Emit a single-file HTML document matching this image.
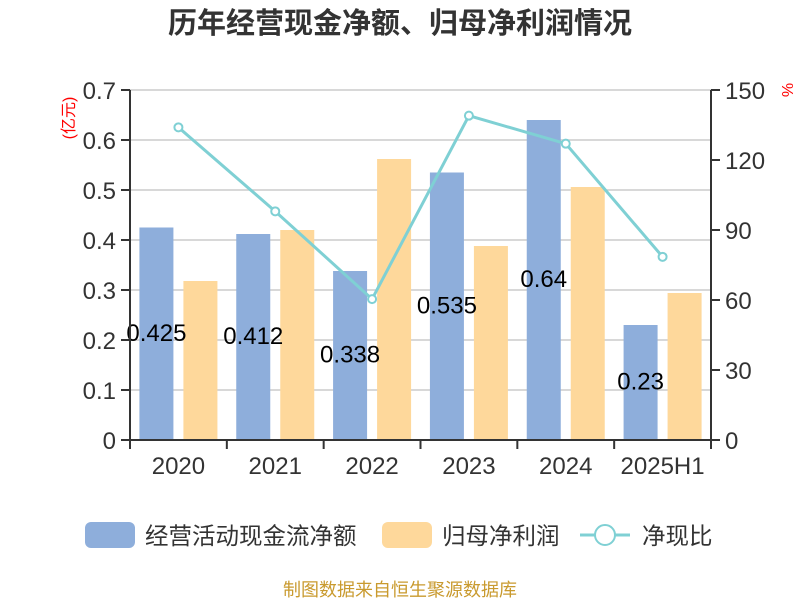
<!DOCTYPE html>
<html><head><meta charset="utf-8"><style>
body{margin:0;background:#fff;}
svg text{font-family:"Liberation Sans","Noto Sans CJK SC",sans-serif;}
</style></head><body>
<svg id="c" width="800" height="600" xmlns="http://www.w3.org/2000/svg">
<text x="400" y="33" text-anchor="middle" font-size="29" font-weight="bold" fill="#333">历年经营现金净额、归母净利润情况</text>
<text transform="translate(74,118) rotate(-90)" text-anchor="middle" font-size="16" fill="#f00">(亿元)</text>
<text transform="translate(782,90) rotate(90)" text-anchor="middle" font-size="16" fill="#f00">%</text>
<g id="grid"></g><g id="bars"></g><g id="line"></g><g id="axes"></g>
<g>
<rect x="85" y="522" width="50" height="26" rx="6" fill="#8eaedb"/>
<text x="145" y="544" font-size="23.5" fill="#333">经营活动现金流净额</text>
<rect x="382" y="522" width="50" height="26" rx="6" fill="#fed89b"/>
<text x="442" y="544" font-size="23.5" fill="#333">归母净利润</text>
<line x1="580" y1="535" x2="630" y2="535" stroke="#7fd0d4" stroke-width="3"/>
<circle cx="605" cy="535" r="10" fill="#fff" stroke="#7fd0d4" stroke-width="2"/>
<text x="642" y="544" font-size="23.5" fill="#333">净现比</text>
</g>
<text x="400" y="596" text-anchor="middle" font-size="18" fill="#c99a2e">制图数据来自恒生聚源数据库</text>
</svg>
<script>
const categories=["2020","2021","2022","2023","2024","2025H1"];
const cashFlow=[0.425,0.412,0.338,0.535,0.64,0.23];
const cashLabels=["0.425","0.412","0.338","0.535","0.64","0.23"];
const netProfit=[0.318,0.42,0.562,0.388,0.506,0.294];
const ratio=[134,98,60.4,139,127,78.5];
const leftTicks=[0,0.1,0.2,0.3,0.4,0.5,0.6,0.7];
const rightTicks=[0,30,60,90,120,150];
const NS="http://www.w3.org/2000/svg";
const X0=130,X1=711,Y0=440,Y1=90;
const bw=(X1-X0)/categories.length;
const yL=v=>Y0-(v/0.7)*(Y0-Y1);
const yR=v=>Y0-(v/150)*(Y0-Y1);
const xc=i=>X0+bw*(i+0.5);
function mk(t,a,p){const e=document.createElementNS(NS,t);for(const k in a)e.setAttribute(k,a[k]);document.getElementById(p).appendChild(e);return e;}
leftTicks.forEach(v=>{
 const g=mk("line",{x1:X0,x2:X1,y1:yL(v),y2:yL(v),stroke:"#ccc","stroke-width":1.5},"grid");
 
 
 const t=mk("line",{x1:X0-9,x2:X0,y1:yL(v),y2:yL(v),stroke:"#333","stroke-width":2},"axes");
 
 
 const l=mk("text",{x:X0-14,y:yL(v)+9,"text-anchor":"end","font-size":24,fill:"#333"},"axes");
 l.textContent=v===0?"0":v.toFixed(1);
 
 
});
rightTicks.forEach(v=>{
 const t=mk("line",{x1:X1,x2:X1+9,y1:yR(v),y2:yR(v),stroke:"#333","stroke-width":2},"axes");
 
 
 const l=mk("text",{x:X1+14,y:yR(v)+9,"font-size":24,fill:"#333"},"axes");
 l.textContent=v;
 
 
});
let a=mk("line",{x1:X0,x2:X0,y1:Y1,y2:Y0,stroke:"#333","stroke-width":2},"axes");


a=mk("line",{x1:X1,x2:X1,y1:Y1,y2:Y0,stroke:"#333","stroke-width":2},"axes");


a=mk("line",{x1:X0,x2:X1,y1:Y0,y2:Y0,stroke:"#333","stroke-width":2},"axes");


for(let i=0;i<=categories.length;i++){
 const t=mk("line",{x1:X0+bw*i,x2:X0+bw*i,y1:Y0,y2:Y0+9,stroke:"#333","stroke-width":2},"axes");
 
 
}
categories.forEach((c,i)=>{
 const l=mk("text",{x:xc(i),y:474,"text-anchor":"middle","font-size":24,fill:"#333"},"axes");
 l.textContent=c;
 
 
 const b=mk("rect",{x:xc(i)-39,y:yL(cashFlow[i]),width:34,height:Y0-yL(cashFlow[i]),fill:"#8eaedb"},"bars");
 
 
 const o=mk("rect",{x:xc(i)+5,y:yL(netProfit[i]),width:34,height:Y0-yL(netProfit[i]),fill:"#fed89b"},"bars");
 
 
 const v=mk("text",{x:xc(i)-22,y:(yL(cashFlow[i])+Y0)/2+7,"text-anchor":"middle","font-size":24,fill:"#000"},"bars");
 v.textContent=cashLabels[i];
 
 
});
const pl=mk("polyline",{points:ratio.map((v,i)=>xc(i)+","+yR(v)).join(" "),fill:"none",stroke:"#7fd0d4","stroke-width":3},"line");


ratio.forEach((v,i)=>{
 const p=mk("circle",{cx:xc(i),cy:yR(v),r:4,fill:"#fff",stroke:"#7fd0d4","stroke-width":2},"line");
 
 
});
</script>
</body></html>
